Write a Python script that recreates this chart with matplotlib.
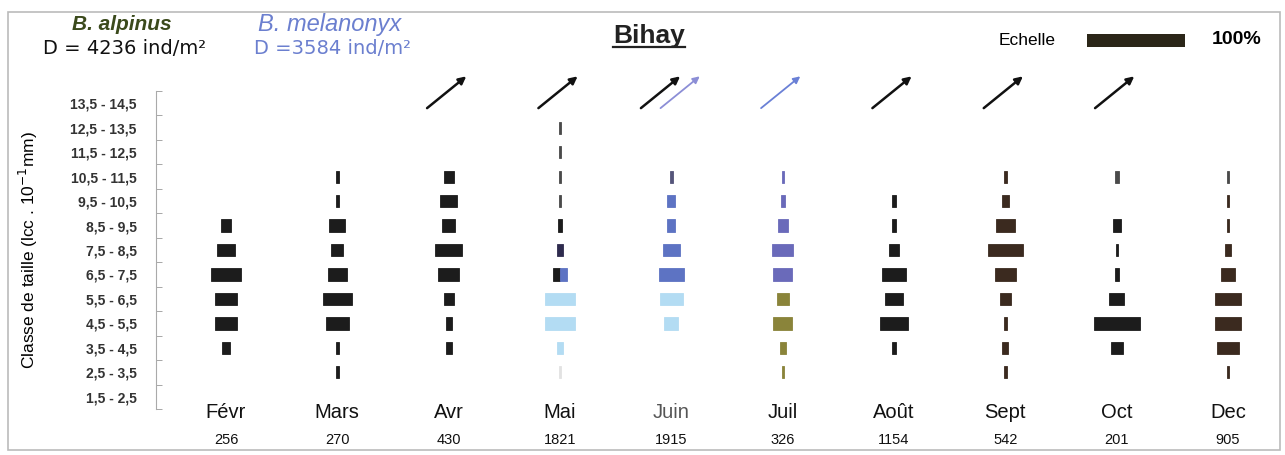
import matplotlib

matplotlib.use("Agg")
import matplotlib.pyplot as plt
import matplotlib.patches as mpatches
from matplotlib.lines import Line2D
import numpy as np

plt.rcParams["font.family"] = ["Liberation Sans", "DejaVu Sans"]

# --------------------------------------------------------------------------
# Data (bar widths in % of the "Echelle" bar, rows from 1,5-2,5 upwards)
# --------------------------------------------------------------------------
size_classes = ["1,5 - 2,5", "2,5 - 3,5", "3,5 - 4,5", "4,5 - 5,5", "5,5 - 6,5",
                "6,5 - 7,5", "7,5 - 8,5", "8,5 - 9,5", "9,5 - 10,5", "10,5 - 11,5",
                "11,5 - 12,5", "12,5 - 13,5", "13,5 - 14,5"]
months = ["Févr", "Mars", "Avr", "Mai", "Juin", "Juil", "Août", "Sept", "Oct", "Dec"]
counts = ["256", "270", "430", "1821", "1915", "326", "1154", "542", "201", "905"]

fevr = [0, 0, 9, 23, 23, 31, 19, 10, 0, 0, 0, 0, 0]
mars = [0, 3.5, 3.5, 24, 29, 20, 12, 16, 3.5, 3.5, 0, 0, 0]
avr = [0, 0, 6, 6, 10, 22, 27, 14, 18, 10, 0, 0, 0]
mai = [0, 2, 7, 31, 30, 7, 5.5, 3.5, 2, 2, 2, 2, 0]
juin = [0, 0, 0, 14, 24, 26, 17, 8, 8, 3, 0, 0, 0]
juil = [0, 2, 6, 19, 12, 19, 22, 10, 4, 2, 0, 0, 0]
aout = [0, 0, 5, 29, 18, 25, 11, 5, 4, 0, 0, 0, 0]
sept = [0, 2.5, 6.5, 2.5, 11, 22, 36, 19, 7, 2.5, 0, 0, 0]
octo = [0, 0, 12, 47, 16, 4, 2, 8, 0, 4, 0, 0, 0]
dec = [0, 2.5, 22, 27, 27, 14, 7, 2.5, 2.5, 2, 0, 0, 0]
widths = [fevr, mars, avr, mai, juin, juil, aout, sept, octo, dec]

# B. melanonyx part sitting next to the B. alpinus bar in May
mai_extra = [0, 0, 0, 0, 0, 7, 0, 0, 0, 0, 0, 0, 0]

# colour code per row for each month
palette = {"K": "#1c1c1c", "G": "#4a4a4a", "N": "#2e2b4e", "L": "#b3dcf3",
           "P": "#5d73c3", "Q": "#55557a", "V": "#6a6aba", "O": "#8a843a",
           "B": "#3b2a1f", "F": "#e2e2e2"}
colours = ["KKKKKKKKKKKKK", "KKKKKKKKKKKKK", "KKKKKKKKKKKKK", "FFLLLKNKGGGGG",
           "LLLLLPPPPQQQQ", "OOOOOVVVVVVVV", "KKKKKKKKKKKKK", "BBBBBBBBBBBBB",
           "KKKKKKKKKGGGG", "BBBBBBBBBGGGG"]

# arrows = individuals above the largest class
arrow_alpinus = [0, 0, 1, 1, 1, 0, 1, 1, 1, 0]
arrow_melanonyx = [0, 0, 0, 0, 1, 1, 0, 0, 0, 0]

# --------------------------------------------------------------------------
# Figure
# --------------------------------------------------------------------------
W, H = 1285, 455
fig = plt.figure(figsize=(W / 100, H / 100), dpi=100)
ax = fig.add_axes([156 / W, (H - 409) / H, (1280 - 156) / W, (409 - 91) / H])

spacing = 113.6
xpos = np.arange(len(months)) * spacing
rows = np.arange(len(size_classes))
bar_h = 0.5

for k, x in enumerate(xpos):
    w = np.array(widths[k], dtype=float)
    extra = np.array(mai_extra if months[k] == "Mai" else [0] * len(rows), dtype=float)
    total = w + extra
    cols = np.array([palette[c] for c in colours[k]])
    on = w > 0
    ax.barh(rows[on], w[on], left=(x - total / 2)[on], height=bar_h,
            color=cols[on], edgecolor=cols[on], linewidth=0.6)
    ex = extra > 0
    if ex.any():
        ax.barh(rows[ex], extra[ex], left=(x - total / 2 + w)[ex], height=bar_h,
                color=palette["P"], edgecolor=palette["P"], linewidth=0.6)

    both = arrow_alpinus[k] and arrow_melanonyx[k]
    if arrow_alpinus[k]:
        dx = -9 if both else 0
        ax.annotate("", xy=(x + 18 + dx, 13.1), xytext=(x - 22 + dx, 11.8),
                    arrowprops=dict(arrowstyle="-|>", color="#111111", lw=1.8,
                                    mutation_scale=11, shrinkA=0, shrinkB=0),
                    annotation_clip=False)
    if arrow_melanonyx[k]:
        dx = 11 if both else 0
        c = "#8c8ed6" if both else "#6a80d6"
        ax.annotate("", xy=(x + 18 + dx, 13.1), xytext=(x - 22 + dx, 11.8),
                    arrowprops=dict(arrowstyle="-|>", color=c, lw=1.3,
                                    mutation_scale=10, shrinkA=0, shrinkB=0),
                    annotation_clip=False)

    ax.text(x, -0.65, months[k], ha="center", va="center", fontsize=14.5,
            color="#555555" if months[k] == "Juin" else "#111111", clip_on=False)
    ax.text(x, -1.75, counts[k], ha="center", va="center", fontsize=10.5,
            color="#111111", clip_on=False,
            family=["Liberation Sans Narrow", "Liberation Sans"])

ax.set_xlim(-71.4, 1075.5)
ax.set_ylim(-0.5, len(size_classes) - 0.5)

ax.set_yticks(rows)
ax.set_yticklabels(size_classes, fontsize=10, fontweight="bold", color="#333333")
ax.set_yticks(np.arange(len(size_classes) + 1) - 0.5, minor=True)
ax.tick_params(axis="y", which="major", length=0, pad=14)
ax.tick_params(axis="y", which="minor", direction="in", length=4, color="#999999")
ax.set_xticks([])
for side in ("top", "right", "bottom"):
    ax.spines[side].set_visible(False)
ax.spines["left"].set_color("#aaaaaa")
ax.set_ylabel("Classe de taille (lcc . 10$^{-1}$mm)", fontsize=12.5)
ax.yaxis.set_label_coords(-116 / (1280 - 156), 0.5)

# scale bar, same x scale as the bars (100 %)
ax.barh(14.57, 100, left=878.6, height=0.52, color="#2b2618", clip_on=False)
ax.text(878.6 - 32, 14.57, "Echelle", ha="right", va="center", fontsize=12.5)
ax.text(878.6 + 100 + 27, 14.62, "100%", ha="left", va="center", fontsize=14,
        fontweight="bold")

# header
fig.text(122 / W, 1 - 25 / H, "B. alpinus", ha="center", va="center",
         fontsize=15, fontweight="bold", style="italic", color="#3b4a1c")
fig.text(125 / W, 1 - 48 / H, "D = 4236 ind/m²", ha="center", va="center",
         fontsize=14, color="#111111", family="DejaVu Sans")
fig.text(330 / W, 1 - 25 / H, "B. melanonyx", ha="center", va="center",
         fontsize=17, style="italic", color="#6b7fcf")
fig.text(332 / W, 1 - 48 / H, "D =3584 ind/m²", ha="center", va="center",
         fontsize=14, color="#6b7fcf", family="DejaVu Sans")
title = fig.text(649 / W, 1 - 36 / H, "Bihay", ha="center", va="center",
                 fontsize=19, fontweight="bold", color="#222222")

# underline the title
fig.canvas.draw()
bb = title.get_window_extent()
fig.add_artist(Line2D([bb.x0 / W, bb.x1 / W], [(bb.y0 + 1) / H, (bb.y0 + 1) / H],
                      transform=fig.transFigure, color="#222222", lw=1.6))

# light frame round the chart
fig.add_artist(mpatches.Rectangle((8 / W, 5 / H), 1272 / W, 438 / H,
                                  transform=fig.transFigure, fill=False,
                                  edgecolor="#bbbbbb", lw=1.2))

fig.savefig("out.png", dpi=100)
plt.close(fig)
